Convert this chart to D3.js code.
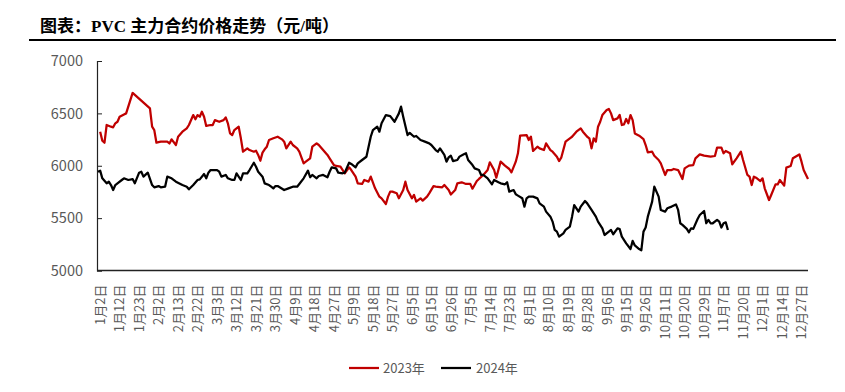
<!DOCTYPE html>
<html><head><meta charset="utf-8">
<script src="https://cdn.jsdelivr.net/npm/d3@7"></script>
<style>body{margin:0;background:#fff}svg{display:block}</style>
</head><body>
<svg id="chart" width="845" height="392"></svg>
<script>
// ---- data ----
const titleText = "图表：PVC 主力合约价格走势（元/吨）";
const tickLabels = ["1月2日","1月12日","1月23日","2月2日","2月13日","2月22日","3月3日","3月12日","3月21日","3月30日","4月9日","4月18日","4月27日","5月9日","5月18日","5月27日","6月5日","6月15日","6月26日","7月5日","7月14日","7月23日","8月1日","8月10日","8月19日","8月28日","9月6日","9月15日","9月26日","10月11日","10月20日","10月29日","11月7日","11月20日","12月1日","12月14日","12月27日"];
const categoryCount = 329;   // trading-day slots on the category axis
const labelStep = 9;         // one label every 9 slots
const yTicks = [5000, 5500, 6000, 6500, 7000];
const seriesNames = ["2023年", "2024年"];

const days2023 = [1,2,3,4,6,7,8,9,10,12,13,16,24,25,26,27,29,32,33,34,36,37,39,41,42,44,45,46,47,48,49,50,52,53,54,56,58,59,60,61,62,63,65,66,67,69,70,72,73,74,75,76,77,78,79,81,83,85,86,87,89,90,92,93,95,96,98,99,101,102,104,106,107,109,110,112,114,116,117,119,120,122,123,125,126,128,130,131,133,134,135,136,138,139,141,142,143,145,146,147,149,150,152,153,155,156,159,160,162,163,165,166,168,170,172,173,175,176,178,180,181,183,184,186,188,190,191,193,194,195,198,199,200,201,203,204,206,207,209,210,212,213,214,216,218,219,221,223,224,226,227,228,229,230,231,232,233,235,236,237,238,240,241,242,243,244,245,246,247,248,250,252,253,254,256,257,259,260,262,263,265,266,268,270,271,273,275,276,278,280,283,285,286,288,289,290,292,293,295,297,298,300,301,302,303,304,306,307,308,310,311,313,314,315,317,318,320,321,323,324,325,326,328];
const values2023 = [6325,6239,6220,6389,6373,6367,6405,6420,6468,6490,6500,6695,6548,6373,6340,6220,6230,6230,6213,6252,6198,6277,6325,6357,6389,6484,6443,6484,6468,6516,6468,6380,6389,6389,6436,6420,6436,6462,6405,6309,6293,6341,6373,6262,6134,6166,6150,6134,6143,6103,6048,6125,6157,6182,6246,6262,6277,6252,6230,6166,6230,6198,6166,6134,6023,6039,6071,6182,6214,6198,6150,6103,6071,6007,5998,5991,5928,5985,5959,5896,5832,5826,5864,5848,5896,5785,5705,5689,5635,5705,5753,5753,5737,5689,5768,5848,5768,5689,5721,5657,5689,5667,5705,5737,5806,5800,5794,5816,5768,5725,5768,5832,5842,5826,5826,5781,5854,5874,5912,5959,6033,5959,5886,6039,6001,5969,5937,6039,6119,6287,6293,6246,6277,6141,6182,6166,6150,6214,6150,6134,6087,6045,6077,6230,6262,6277,6325,6357,6325,6277,6262,6166,6262,6230,6373,6420,6484,6532,6542,6500,6436,6452,6485,6389,6395,6446,6405,6484,6436,6309,6287,6255,6198,6128,6134,6096,6055,6023,5912,5959,5959,5969,5959,5873,5975,6001,6007,6071,6109,6096,6087,6093,6173,6173,6119,6141,6119,6014,6071,6134,6055,5912,5896,5816,5896,5886,5854,5880,5785,5673,5721,5822,5822,5864,5810,5982,5998,6071,6096,6109,6039,5959,5873];

const days2024 = [0,1,2,4,5,6,7,8,9,11,12,14,16,17,19,20,21,23,25,26,28,29,31,32,34,36,39,41,42,44,46,47,49,50,51,52,55,56,57,59,60,62,63,64,66,67,69,70,72,73,74,76,77,79,80,81,82,83,86,88,90,92,93,95,97,98,99,101,102,104,106,107,108,110,111,113,114,116,117,119,120,122,124,126,127,129,130,131,133,135,137,139,140,141,143,144,146,147,149,151,153,154,156,157,158,160,161,162,163,164,166,167,169,170,171,173,174,176,177,178,180,182,183,185,186,188,189,190,192,193,194,196,197,198,199,201,203,204,206,207,209,210,211,212,213,215,216,218,219,220,222,223,225,226,228,230,231,233,234,236,237,238,240,241,242,244,246,247,248,250,251,252,253,254,256,257,259,260,262,263,265,267,268,269,270,272,273,274,275,277,278,280,281,282,283,284,286,287,288,289,290,291];
const values2024 = [5943,5953,5880,5832,5848,5816,5768,5816,5832,5864,5880,5864,5873,5832,5934,5943,5896,5934,5816,5794,5806,5794,5800,5896,5880,5848,5816,5800,5775,5816,5864,5870,5921,5880,5934,5959,5959,5943,5896,5912,5880,5864,5864,5928,5864,5928,5928,5959,6029,5991,5943,5896,5832,5816,5800,5784,5806,5806,5768,5784,5800,5800,5826,5880,5953,5890,5912,5880,5902,5912,5890,5943,5985,5975,5934,5928,5934,6029,6017,5985,6023,6055,6086,6277,6341,6373,6325,6405,6484,6474,6420,6500,6564,6468,6293,6314,6277,6284,6246,6230,6214,6198,6150,6134,6166,6103,6039,6080,6096,6045,6055,6087,6110,6119,6055,6007,5975,5959,5912,5912,5880,5823,5864,5842,5832,5823,5842,5753,5768,5727,5715,5689,5610,5689,5705,5705,5689,5641,5610,5562,5514,5467,5387,5371,5323,5355,5387,5419,5514,5625,5562,5610,5663,5641,5578,5514,5467,5403,5339,5371,5387,5346,5403,5395,5323,5259,5205,5283,5239,5205,5193,5371,5410,5514,5657,5800,5705,5578,5562,5594,5610,5631,5578,5451,5435,5397,5365,5403,5397,5492,5530,5568,5451,5483,5451,5451,5483,5467,5410,5451,5460,5387];

// ---- drawing ----
const svg = d3.select("#chart");
const colors = ["#C00000", "#000000"];
const grey = "#595959";

const x = d3.scaleLinear().domain([0, categoryCount - 1]).range([98, 808]);
const y = d3.scaleLinear().domain([5000, 7000]).range([270.5, 61]);

// title
svg.append("text").attr("x", 40).attr("y", 32)
  .attr("font-family", "'Liberation Serif','Noto Sans CJK SC',serif")
  .attr("font-weight", "bold").attr("font-size", 17).attr("fill", "#000")
  .text(titleText);
svg.append("line").attr("x1", 29).attr("x2", 836).attr("y1", 40).attr("y2", 40)
  .attr("stroke", "#000").attr("stroke-width", 2);

// y axis
const yAxis = d3.axisRight(y).tickValues(yTicks).tickSize(5).tickFormat(d3.format("d"));
const gy = svg.append("g").attr("transform", `translate(${x.range()[0] - 1},0)`).call(yAxis);
gy.select(".domain").attr("stroke", "#222").attr("stroke-width", 1.2);
gy.selectAll(".tick line").attr("stroke", "#222");
gy.selectAll(".tick text").attr("x", -14).attr("text-anchor", "end")
  .attr("fill", grey).attr("font-size", 14.5)
  .attr("font-family", "'Noto Sans CJK SC','Noto Sans',sans-serif");

// x axis
const xAxis = d3.axisBottom(x)
  .tickValues(d3.range(tickLabels.length).map(i => i * labelStep))
  .tickSize(0).tickFormat(d => tickLabels[d / labelStep]);
const gx = svg.append("g").attr("transform", `translate(0,${y(5000)})`).call(xAxis);
gx.select(".domain").attr("d", `M${x.range()[0] - 1},0H${x.range()[1]}`)
  .attr("stroke", "#222").attr("stroke-width", 1.6);
gx.selectAll(".tick text")
  .attr("transform", "rotate(-90)")
  .attr("text-anchor", "end").attr("x", -14).attr("y", 0).attr("dy", "0.5em")
  .attr("fill", grey).attr("font-size", 13)
  .attr("font-family", "'Noto Sans CJK SC','Noto Sans',sans-serif");

// lines
const line = d3.line().x(d => x(d[0])).y(d => y(d[1]));
const series = [d3.zip(days2023, values2023), d3.zip(days2024, values2024)];
series.forEach((s, i) => {
  svg.append("path").datum(s).attr("d", line)
    .attr("fill", "none").attr("stroke", colors[i]).attr("stroke-width", 2.25)
    .attr("stroke-linejoin", "round");
});

// legend
const legendItems = [{x: 349, tx: 383}, {x: 441, tx: 476}];
seriesNames.forEach((name, i) => {
  const g = svg.append("g");
  g.append("line").attr("x1", legendItems[i].x).attr("x2", legendItems[i].x + 30)
    .attr("y1", 368).attr("y2", 368).attr("stroke", colors[i]).attr("stroke-width", 2.25);
  g.append("text").attr("x", legendItems[i].tx).attr("y", 368).attr("dy", "0.35em")
    .attr("fill", grey).attr("font-size", 13)
    .attr("font-family", "'Noto Sans CJK SC','Noto Sans',sans-serif").text(name);
});
</script>
</body></html>
